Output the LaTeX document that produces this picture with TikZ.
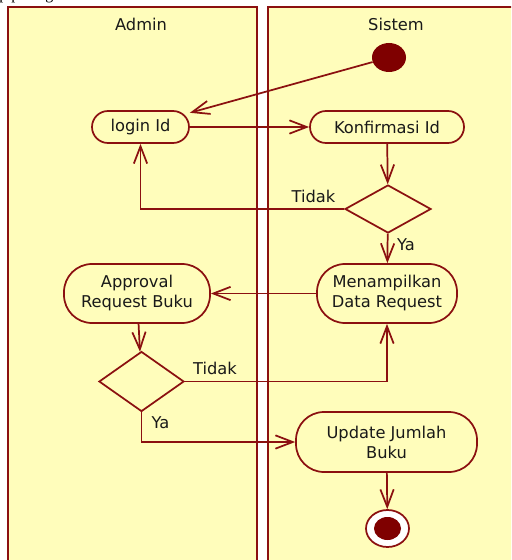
\documentclass[tikz,border=0pt]{standalone}
\usepackage{fontspec}
\setmainfont{DejaVu Sans}
\newfontfamily\leadserif{Liberation Serif}
\usetikzlibrary{arrows.meta,shapes.geometric}
\definecolor{laneline}{HTML}{8B1010}
\definecolor{lanefill}{HTML}{FFFDBB}
\definecolor{nodedot}{HTML}{7F0000}

\begin{document}
\begin{tikzpicture}[x=0.75pt,y=-0.75pt,
  every node/.style={font=\fontsize{12.2pt}{15pt}\selectfont, text=black!90},
  lane/.style={draw=laneline, line width=1.5pt, fill=lanefill},
  action/.style={draw=laneline, line width=1.3pt, fill=lanefill, align=center, inner sep=0pt},
  decision/.style={diamond, draw=laneline, line width=1.3pt, fill=lanefill, inner sep=0pt},
  flow/.style={draw=laneline, line width=1.3pt, -{Straight Barb[length=13pt,width=10pt]}},
  guard/.style={inner sep=0pt},
]
\useasboundingbox (0,0) rectangle (511,560);
\fill[white] (0,0) rectangle (511,560);

% swimlanes and the line of running text above them
\begin{scope}
  \clip (0,0) rectangle (511,560);
  \draw[lane] (8,7) rectangle (257,575);
  \draw[lane] (268,7) rectangle (525,575);
  \node[font=\leadserif\fontsize{12pt}{14pt}\selectfont, anchor=base west, inner sep=0pt, text=black] (lead) at (-1,0) {p pada gambar};
\end{scope}

\node[guard] (admintitle) at (141,24) {Admin};
\node[guard] (sistemtitle) at (396,24) {Sistem};

% activity nodes
\node[ellipse, fill=nodedot, minimum width=25.5pt, minimum height=21.75pt, inner sep=0pt] (start) at (389,57.5) {};
\node[action, minimum width=72.75pt, minimum height=24pt, rounded corners=12pt] (login) at (140.5,127) {login Id};
\node[action, minimum width=115.5pt, minimum height=24pt, rounded corners=12pt] (konf) at (387,127) {Konfirmasi Id};
\node[decision, minimum width=64.5pt, minimum height=36pt] (cek) at (388,209) {};
\node[action, minimum width=105pt, minimum height=44.25pt, rounded corners=21pt] (tampil) at (387,293.5) {Menampilkan\\Data Request};
\node[action, minimum width=109.5pt, minimum height=44.25pt, rounded corners=21pt] (approval) at (137,293.5) {Approval\\Request Buku};
\node[decision, minimum width=63.75pt, minimum height=45pt] (setuju) at (141.5,381.5) {};
\node[action, minimum width=135.75pt, minimum height=45pt, rounded corners=21pt] (update) at (386.5,442) {Update Jumlah\\Buku};
\node[ellipse, draw=laneline, line width=1.3pt, fill=white, minimum width=32.25pt, minimum height=27.75pt, inner sep=0pt] (end) at (387.5,528.5) {};
\node[ellipse, fill=nodedot, minimum width=20.25pt, minimum height=17.25pt, inner sep=0pt] (enddot) at (end.center) {};

% control flow
\draw[flow] (start) -- ([yshift=-2pt]login.north east);
\draw[flow] (login) -- (konf);
\draw[flow] (konf) -- (cek);
\draw[flow] (cek.west) -| (login.south);
\draw[flow] (cek) -- (tampil);
\draw[flow] (tampil) -- (approval);
\draw[flow] (approval) -- (setuju);
\draw[flow] (setuju.east) -| (tampil.south);
\draw[flow] (setuju.south) |- (update.west);
\draw[flow] (update) -- (end);

% guards
\node[guard] (tidak1) at (313.5,196) {Tidak};
\node[guard] (ya1) at (406,245) {Ya};
\node[guard] (tidak2) at (215,368) {Tidak};
\node[guard] (ya2) at (160.5,423) {Ya};
\end{tikzpicture}
\end{document}
